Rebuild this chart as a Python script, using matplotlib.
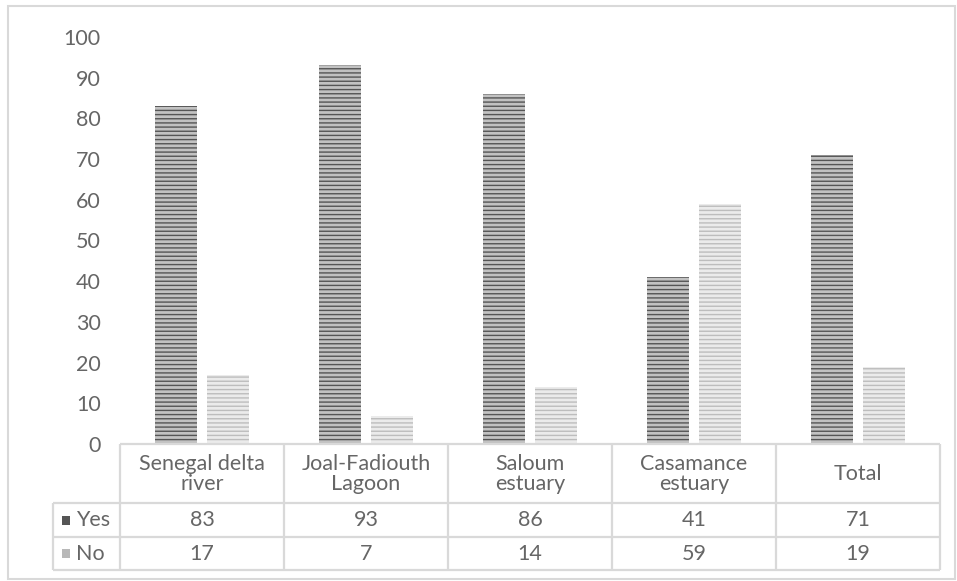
import matplotlib
matplotlib.use("Agg")
import matplotlib.pyplot as plt
from matplotlib.transforms import blended_transform_factory
from matplotlib.patches import Rectangle
import numpy as np

categories = ["Senegal delta\nriver", "Joal-Fadiouth\nLagoon", "Saloum\nestuary", "Casamance\nestuary", "Total"]
series_names = ["Yes", "No"]
yes_values = [83, 93, 86, 41, 71]
no_values = [17, 7, 14, 59, 19]
y_ticks = [0, 10, 20, 30, 40, 50, 60, 70, 80, 90, 100]

plt.rcParams['hatch.linewidth'] = 1.0
FONT = ['Lato', 'DejaVu Sans']
FW = 'normal'
FS = 15.5
TXT = '#666666'
GRID = '#d9d9d9'

W, H = 957, 581
fig = plt.figure(figsize=(W / 100, H / 100), dpi=100)

def fx(px):
    return px / W

def fy(py):
    return 1 - py / H

# outer chart border
fig.patches.append(Rectangle((fx(8), fy(579)), fx(947), (579 - 6) / H,
                             transform=fig.transFigure, fill=False, edgecolor=GRID, lw=1.5))

ax = fig.add_axes([fx(120), fy(444), fx(940) - fx(120), fy(37) - fy(444)])
x = np.arange(len(categories))
bw = 0.256
off = 0.158
ax.bar(x - off, yes_values, bw, color='#c2c2c2', edgecolor='#555555', hatch='----', linewidth=0)
ax.bar(x + off, no_values, bw, color='#ebebeb', edgecolor='#bdbdbd', hatch='----', linewidth=0)

ax.set_xlim(-0.5, len(categories) - 0.5)
ax.set_ylim(0, 100)
ax.set_yticks(y_ticks)
ax.set_yticklabels([str(t) for t in y_ticks], fontsize=FS, color=TXT, family=FONT, fontweight=FW)
ax.tick_params(axis='y', length=0, pad=14)
ax.set_xticks([])
for s in ['top', 'right', 'left', 'bottom']:
    ax.spines[s].set_visible(False)

# data table below axes, in data x / axes-fraction y
tr = blended_transform_factory(ax.transData, ax.transAxes)
ah = 444 - 37
def yrow(py):
    return (444 - py) / ah

y_top = yrow(444)
y_hdr = yrow(503)
y_yes = yrow(537)
y_no = yrow(570)
leg_left = -0.5 - (120 - 53) / 164.0

lkw = dict(color=GRID, lw=1.6, transform=tr, clip_on=False, solid_capstyle='butt')
ax.plot([-0.5, len(categories) - 0.5], [y_top, y_top], **lkw)
for yy in [y_hdr, y_yes, y_no]:
    ax.plot([leg_left, len(categories) - 0.5], [yy, yy], **lkw)
for i in range(len(categories) + 1):
    ax.plot([i - 0.5, i - 0.5], [y_top, y_no], **lkw)
ax.plot([leg_left, leg_left], [y_hdr, y_no], **lkw)

tkw = dict(transform=tr, ha='center', va='center', color=TXT, fontsize=FS, family=FONT,
           fontweight=FW, clip_on=False)
for i, c in enumerate(categories):
    ax.text(i, (y_top + y_hdr) / 2, c, linespacing=1.0, **tkw)
    ax.text(i, (y_hdr + y_yes) / 2, str(yes_values[i]), **tkw)
    ax.text(i, (y_yes + y_no) / 2, str(no_values[i]), **tkw)

# legend keys in table
colors = ['#555555', '#b8b8b8']
for j, (name, yy0, yy1) in enumerate([(series_names[0], y_hdr, y_yes), (series_names[1], y_yes, y_no)]):
    ym = (yy0 + yy1) / 2
    kx = leg_left + 9 / 164.0
    ax.add_patch(Rectangle((kx, ym - 4.5 / ah), 8 / 164.0, 9 / ah, transform=tr, clip_on=False,
                           facecolor=colors[j], edgecolor='none'))
    ax.text(kx + 14 / 164.0, ym, name, transform=tr, ha='left', va='center', color=TXT,
            fontsize=FS, family=FONT, fontweight=FW, clip_on=False)

fig.savefig('out.png', dpi=100)
